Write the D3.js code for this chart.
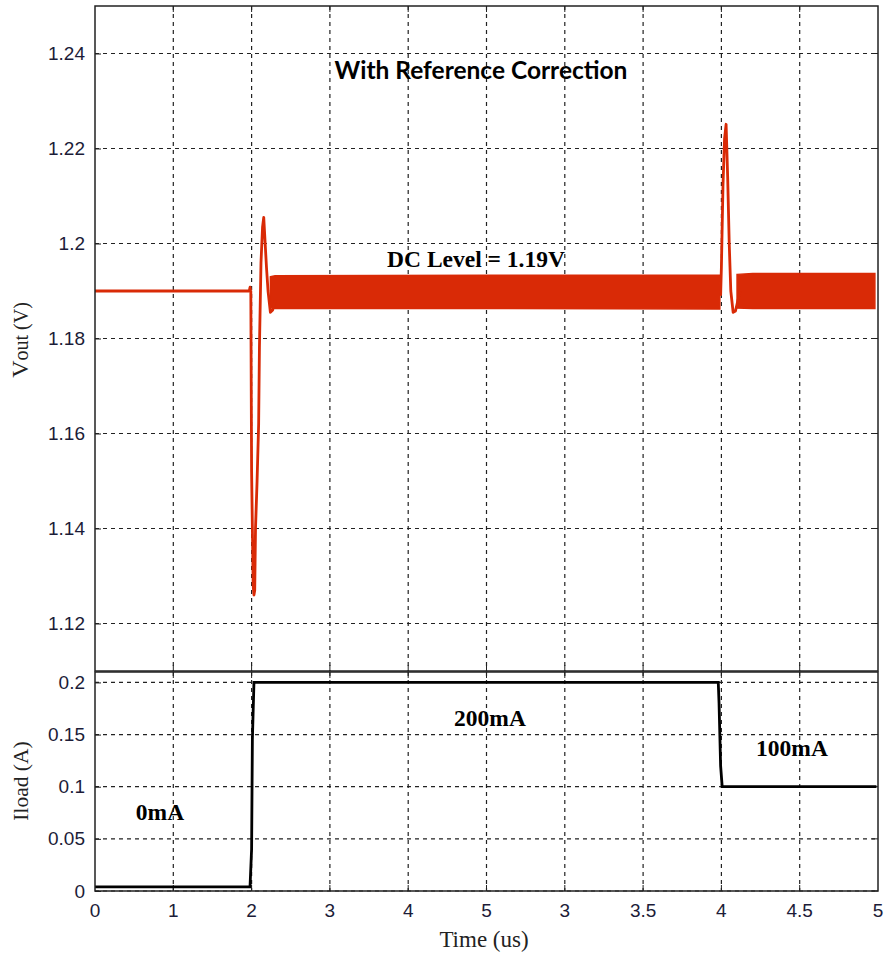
<!DOCTYPE html>
<html>
<head>
<meta charset="utf-8">
<script src="https://cdn.jsdelivr.net/npm/d3@7"></script>
<style>
  body { margin: 0; background: #fff; }
  svg { display: block; }
</style>
</head>
<body>
<svg id="chart"></svg>
<script>
// x positions are tick index (0..10), labelled with the odd original tick text
var xTickLabels = ['0', '1', '2', '3', '4', '5', '3', '3.5', '4', '4.5', '5'];
var voutTicks = [1.12, 1.14, 1.16, 1.18, 1.2, 1.22, 1.24];
var iloadTicks = [0, 0.05, 0.1, 0.15, 0.2];

// Vout transients [t, volts]
var voutStart = [[0, 1.19], [1.97, 1.19], [1.98, 1.1908], [1.99, 1.19]];
var voutDip = [[1.99, 1.19], [2.0, 1.152], [2.02, 1.128], [2.03, 1.126], [2.04, 1.127],
  [2.05, 1.14], [2.07, 1.15], [2.09, 1.162], [2.1, 1.178], [2.12, 1.196],
  [2.14, 1.2035], [2.155, 1.2055], [2.17, 1.201], [2.19, 1.195], [2.21, 1.19],
  [2.24, 1.1855], [2.27, 1.186], [2.3, 1.188]];
var voutSpike = [[7.99, 1.189], [8.0, 1.195], [8.02, 1.212], [8.04, 1.222], [8.06, 1.2251],
  [8.08, 1.214], [8.1, 1.2], [8.12, 1.19], [8.15, 1.1855], [8.18, 1.1858], [8.21, 1.188], [8.24, 1.19]];
// ripple envelope [t, low, high]
var rippleA = [[2.24, 1.1865, 1.1930], [2.3, 1.1863, 1.1932], [5.0, 1.1863, 1.1933], [7.98, 1.1862, 1.1933]];
var rippleB = [[8.2, 1.1864, 1.1935], [8.4, 1.1863, 1.1937], [9.96, 1.1863, 1.1937]];

// Iload step [t, amps]
var iload = [[0, 0.004], [1.98, 0.004], [2.0, 0.04], [2.01, 0.145], [2.03, 0.2],
  [7.96, 0.2], [7.97, 0.18], [7.99, 0.12], [8.01, 0.1], [9.98, 0.1]];

var W = 885, H = 958;
var left = 95, right = 878;
var topA = 6, botA = 671, topB = 672, botB = 891;
var red = '#d92a06';

var svg = d3.select('#chart').attr('width', W).attr('height', H);

var x = d3.scaleLinear().domain([0, 10]).range([left, right]);
var yV = d3.scaleLinear().domain([1.11, 1.25]).range([botA, topA]);
var yI = d3.scaleLinear().domain([0, 0.21]).range([botB, topB]);

var tickFont = "'Liberation Sans', Arial, sans-serif";
var serif = "'Liberation Serif', 'Times New Roman', serif";

function panel(y, ticks, fmt, y0, y1) {
  var g = svg.append('g');
  // grid
  g.selectAll('line.gx').data(d3.range(1, 10)).enter().append('line')
    .attr('x1', d => x(d)).attr('x2', d => x(d)).attr('y1', y0).attr('y2', y1)
    .attr('stroke', '#222').attr('stroke-width', 1.2).attr('stroke-dasharray', '4,4');
  g.selectAll('line.gy').data(ticks).enter().append('line')
    .attr('x1', left).attr('x2', right).attr('y1', d => y(d)).attr('y2', d => y(d))
    .attr('stroke', '#222').attr('stroke-width', 1.2).attr('stroke-dasharray', '4,4');
  // left axis
  var ax = g.append('g').attr('transform', 'translate(' + left + ',0)')
    .call(d3.axisLeft(y).tickValues(ticks).tickFormat(fmt).tickSize(-6).tickPadding(10));
  ax.select('.domain').remove();
  ax.selectAll('line').attr('stroke', '#222');
  ax.selectAll('text').attr('font-family', tickFont).attr('font-size', 19).attr('fill', '#1c1c38');
  // right ticks
  g.selectAll('line.rt').data(ticks).enter().append('line')
    .attr('x1', right).attr('x2', right - 6).attr('y1', d => y(d)).attr('y2', d => y(d))
    .attr('stroke', '#222');
  // top/bottom ticks
  g.selectAll('line.tt').data(d3.range(1, 10)).enter().append('line')
    .attr('x1', d => x(d)).attr('x2', d => x(d)).attr('y1', y0).attr('y2', y0 + 6)
    .attr('stroke', '#222');
  g.selectAll('line.bt').data(d3.range(1, 10)).enter().append('line')
    .attr('x1', d => x(d)).attr('x2', d => x(d)).attr('y1', y1).attr('y2', y1 - 6)
    .attr('stroke', '#222');
  return g;
}

panel(yV, voutTicks, d3.format('~g'), topA, botA);
panel(yI, iloadTicks, d3.format('~g'), topB, botB);

// Vout trace
var area = d3.area().x(d => x(d[0])).y0(d => yV(d[1])).y1(d => yV(d[2]));
[rippleA, rippleB].forEach(function (r) {
  svg.append('path').datum(r).attr('d', area).attr('fill', red)
    .attr('stroke', red).attr('stroke-width', 1.5);
});
var vline = d3.line().x(d => x(d[0])).y(d => yV(d[1]));
[voutStart, voutDip, voutSpike].forEach(function (s) {
  svg.append('path').datum(s).attr('d', vline).attr('fill', 'none')
    .attr('stroke', red).attr('stroke-width', 2.8).attr('stroke-linejoin', 'round');
});

// Iload trace
svg.append('path').datum(iload)
  .attr('d', d3.line().x(d => x(d[0])).y(d => yI(d[1])))
  .attr('fill', 'none').attr('stroke', '#000').attr('stroke-width', 2.8);

// frames
svg.append('rect').attr('x', left).attr('y', topA).attr('width', right - left).attr('height', botA - topA)
  .attr('fill', 'none').attr('stroke', '#222').attr('stroke-width', 1.5);
svg.append('rect').attr('x', left).attr('y', topB).attr('width', right - left).attr('height', botB - topB)
  .attr('fill', 'none').attr('stroke', '#222').attr('stroke-width', 1.5);

// x axis labels
svg.append('g').selectAll('text').data(xTickLabels).enter().append('text')
  .attr('x', (d, i) => x(i)).attr('y', 917).attr('text-anchor', 'middle')
  .attr('font-family', tickFont).attr('font-size', 19).attr('fill', '#1c1c38')
  .text(d => d);

svg.append('text').attr('x', 484).attr('y', 947).attr('text-anchor', 'middle')
  .attr('font-family', serif).attr('font-size', 23).attr('fill', '#222').text('Time (us)');

// y labels
var vl = svg.append('text').attr('transform', 'translate(28,340) rotate(-90)')
  .attr('text-anchor', 'middle').attr('font-family', serif).attr('fill', '#222');
vl.append('tspan').attr('font-size', 24).text('V');
vl.append('tspan').attr('font-size', 20).text('out (V)');

svg.append('text').attr('transform', 'translate(28,781) rotate(-90)')
  .attr('text-anchor', 'middle').attr('font-family', serif).attr('font-size', 21.5)
  .attr('fill', '#222').text('Iload (A)');

// annotations
svg.append('text').attr('x', 481).attr('y', 79).attr('text-anchor', 'middle')
  .attr('font-family', "Lato, 'Open Sans', sans-serif").attr('font-weight', 'bold')
  .attr('font-size', 24.5).attr('fill', '#000').text('With Reference Correction');

var notes = [
  { t: 'DC Level = 1.19V', x: 476, y: 267, s: 23.5 },
  { t: '200mA', x: 490, y: 726, s: 23.5 },
  { t: '100mA', x: 792, y: 756, s: 23.5 },
  { t: '0mA', x: 160, y: 820, s: 23.5 }
];
svg.append('g').selectAll('text').data(notes).enter().append('text')
  .attr('x', d => d.x).attr('y', d => d.y).attr('text-anchor', 'middle')
  .attr('font-family', serif).attr('font-weight', 'bold').attr('font-size', d => d.s)
  .attr('fill', '#000').text(d => d.t);
</script>
</body>
</html>
